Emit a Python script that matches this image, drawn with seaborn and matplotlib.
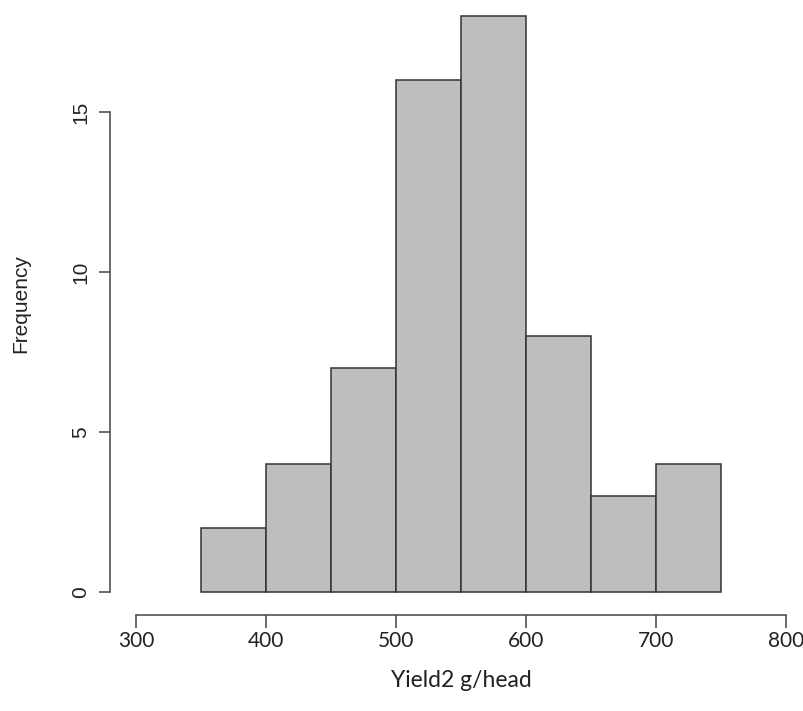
import matplotlib
matplotlib.use("Agg")
import matplotlib.pyplot as plt
import seaborn as sns
import numpy as np
import pandas as pd

# Histogram of yield per head: bin edges and counts
bin_edges = [350, 400, 450, 500, 550, 600, 650, 700, 750]
counts = [2, 4, 7, 16, 18, 8, 3, 4]
x_ticks = [300, 400, 500, 600, 700, 800]
y_ticks = [0, 5, 10, 15]
x_label = "Yield2 g/head"
y_label = "Frequency"

mids = [(a + b) / 2 for a, b in zip(bin_edges[:-1], bin_edges[1:])]
df = pd.DataFrame({"yield": mids, "n": counts})

sns.set_style("white")
plt.rcParams["font.family"] = ["Liberation Sans", "DejaVu Sans"]

W, H = 804, 711
fig = plt.figure(figsize=(W / 100, H / 100), dpi=100)
# plot region in pixels (R-style 4% padding around the data range)
left_px, right_px, bottom_px, top_px = 110, 812, 615, -7
ax = fig.add_axes([left_px / W, 1 - bottom_px / H,
                   (right_px - left_px) / W, (bottom_px - top_px) / H])

sns.histplot(data=df, x="yield", weights="n", bins=bin_edges,
             color="#bebebe", edgecolor="#333333", linewidth=1.1,
             alpha=1.0, ax=ax, clip_on=False)

ax.set_xlim(280, 820)
ax.set_ylim(-0.72, 18.72)

for s in ["top", "right"]:
    ax.spines[s].set_visible(False)
for s in ["left", "bottom"]:
    ax.spines[s].set_color("#444444")
    ax.spines[s].set_linewidth(1.1)
ax.spines["left"].set_bounds(0, 15)
ax.spines["bottom"].set_bounds(300, 800)

ax.set_xticks(x_ticks)
ax.set_yticks(y_ticks)
ax.tick_params(axis="y", direction="out", length=8, width=1.1, color="#444444",
               pad=6, labelsize=15, labelcolor="#222222", left=True)
ax.tick_params(axis="x", direction="out", length=9.5, width=1.1, color="#444444",
               pad=2, labelsize=15, labelcolor="#222222", bottom=True)
for lab in ax.get_yticklabels():
    lab.set_rotation(90)
    lab.set_va("center")
for lab in ax.get_xticklabels():
    lab.set_family(["Lato", "DejaVu Sans"])

ax.set_ylabel(y_label, fontsize=15, color="#222222", labelpad=30)
ax.set_xlabel(x_label, fontsize=16.5, color="#222222", labelpad=14,
              family=["Lato", "DejaVu Sans"])

fig.savefig("out.png", dpi=100, facecolor="white")
